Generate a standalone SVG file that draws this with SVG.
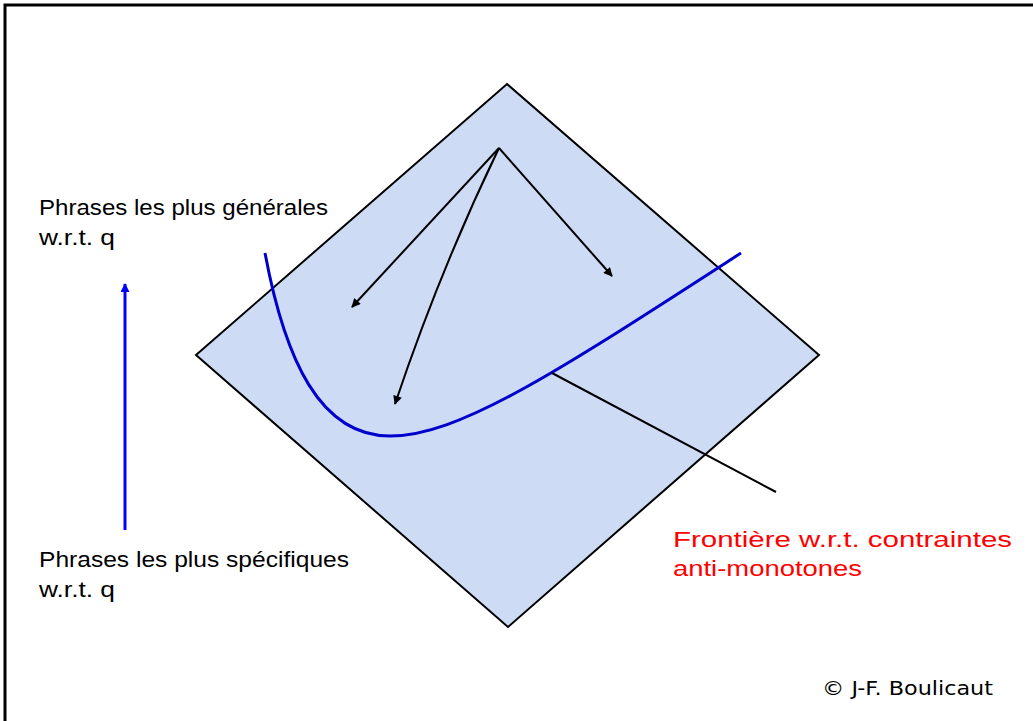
<svg xmlns="http://www.w3.org/2000/svg" width="1033" height="721" viewBox="0 0 1033 721">
<style>
.t{font-family:"Liberation Sans","DejaVu Sans",sans-serif;font-size:22px;fill:#000}
.r{fill:#ff0000}
.c{font-family:"DejaVu Sans","Liberation Sans",sans-serif;font-size:20px;fill:#000}
.k{stroke:#000;stroke-width:2;fill:none}
</style>
<defs>
<marker id="ah" viewBox="0 0 10 10" refX="9" refY="5" markerWidth="11" markerHeight="9" markerUnits="userSpaceOnUse" orient="auto"><path d="M0,0 L10,5 L0,10 z" fill="#000"/></marker>
<marker id="ahb" viewBox="0 0 10 10" refX="9" refY="5" markerWidth="11" markerHeight="9" markerUnits="userSpaceOnUse" orient="auto"><path d="M0,0 L10,5 L0,10 z" fill="#0000ff"/></marker>
</defs>
<rect width="1033" height="721" fill="#fff"/>
<g id="frame"><path d="M5,721 L5,5 L1033,5" fill="none" stroke="#000" stroke-width="3"/></g>
<g id="lattice"><polygon points="507,84 819,355 508,627 196,355" fill="#cddbf5" stroke="#000" stroke-width="2"/></g>
<g id="connectors">
<line class="k" x1="499" y1="148" x2="352" y2="307" marker-end="url(#ah)"/>
<path class="k" d="M499,148 Q440,270 395,404" marker-end="url(#ah)"/>
<line class="k" x1="499" y1="148" x2="612" y2="276" marker-end="url(#ah)"/>
<path d="M265,253 C285,360 320,436 390,436 C460,436 560,370 741,253" fill="none" stroke="#0000cc" stroke-width="3"/>
<line class="k" x1="552" y1="373" x2="776" y2="492"/>
<line x1="125" y1="530" x2="125" y2="284" stroke="#0000ff" stroke-width="3" marker-end="url(#ahb)"/>
</g>
<g id="label-general"><text class="t" x="39" y="215" textLength="289" lengthAdjust="spacingAndGlyphs">Phrases les plus générales</text><text class="t" x="39" y="245" textLength="76" lengthAdjust="spacingAndGlyphs">w.r.t. q</text></g>
<g id="label-specific"><text class="t" x="39" y="567" textLength="310" lengthAdjust="spacingAndGlyphs">Phrases les plus spécifiques</text><text class="t" x="39" y="597" textLength="76" lengthAdjust="spacingAndGlyphs">w.r.t. q</text></g>
<g id="label-frontier"><text class="t r" x="673" y="547" textLength="339" lengthAdjust="spacingAndGlyphs">Frontière w.r.t. contraintes</text><text class="t r" x="673" y="576" textLength="189" lengthAdjust="spacingAndGlyphs">anti-monotones</text></g>
<g id="copyright"><text class="c" x="822" y="695" textLength="171" lengthAdjust="spacingAndGlyphs">© J-F. Boulicaut</text></g>
</svg>
